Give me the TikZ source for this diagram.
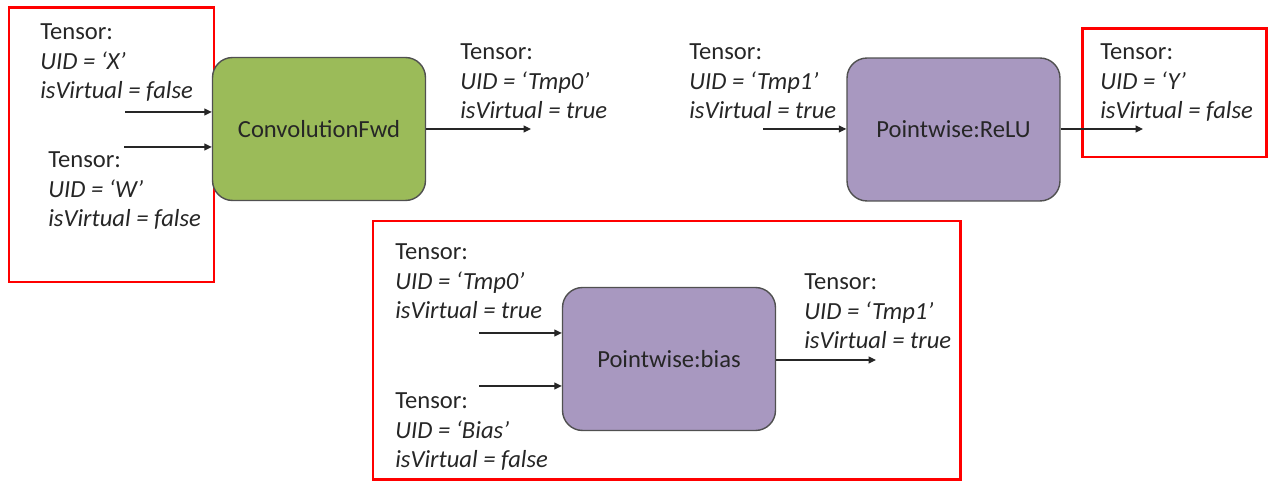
\documentclass[tikz,border=0pt]{standalone}
\usepackage{fontspec}
\setmainfont{Carlito}
\usetikzlibrary{arrows.meta}
\definecolor{txt}{RGB}{38,38,38}
\definecolor{convgreen}{HTML}{9BBB59}
\definecolor{pwpurple}{HTML}{A898C0}
\definecolor{boxedge}{RGB}{80,80,80}
\tikzset{
  lbl/.style={anchor=base west, inner sep=0pt, text=txt, font=\fontsize{14}{17}\selectfont},
  lbli/.style={lbl, font=\fontsize{14}{17}\selectfont\itshape},
  opbox/.style={draw=boxedge, line width=0.8pt, rounded corners=0.4cm,
    minimum width=4.26cm, minimum height=2.86cm, inner sep=0pt, text=txt,
    font=\fontsize{14}{17}\selectfont},
  redbox/.style={draw=red, line width=1.7pt},
  flow/.style={draw=txt, line width=0.7pt, -{Triangle[length=1.5mm,width=1.4mm]}}
}
\newcommand\tensorlabel[5]{%
  \node[lbl]  (#1-t) at (#2,#3+7) {Tensor:};
  \node[lbli] (#1-u) at (#2,#3+36.5) {UID = ‘#4’};
  \node[lbli] (#1-v) at (#2,#3+66) {isVirtual = #5};
}
\begin{document}
\begin{tikzpicture}[x=0.02cm,y=-0.02cm]
\useasboundingbox (0,0) rectangle (1268,482);
% red frames
\draw[redbox] (9,8) rectangle (214,282);
\draw[redbox] (1082,29) rectangle (1266,157);
\draw[redbox] (373,221) rectangle (960,479.5);
% operation boxes
\node[opbox, fill=convgreen] (conv) at (319,129) {ConvolutionFwd};
\node[opbox, fill=pwpurple] (relu) at (953.5,129.5) {Pointwise:ReLU};
\node[opbox, fill=pwpurple] (bias) at (669,359) {Pointwise:bias};
% tensor labels
\tensorlabel{tx}{40}{33}{X}{false}
\tensorlabel{tw}{48}{161}{W}{false}
\tensorlabel{tt0}{460}{53}{Tmp0}{true}
\tensorlabel{tt1}{689}{53}{Tmp1}{true}
\tensorlabel{ty}{1100}{53}{Y}{false}
\tensorlabel{tb0}{395}{253}{Tmp0}{true}
\tensorlabel{tbb}{395}{402}{Bias}{false}
\tensorlabel{tb1}{804}{283}{Tmp1}{true}
% free ends of connectors
\coordinate (xin) at (125,112);
\coordinate (win) at (124,147);
\coordinate (convout) at (531,129);
\coordinate (reluin) at (763,129);
\coordinate (reluout) at (1143,129);
\coordinate (bin1) at (479,333);
\coordinate (bin2) at (479,386);
\coordinate (biasout) at (876,360);
% connectors
\draw[flow] (xin) -- (xin -| conv.west);
\draw[flow] (win) -- (win -| conv.west);
\draw[flow] (conv.east |- convout) -- (convout);
\draw[flow] (reluin) -- (reluin -| relu.west);
\draw[flow] (relu.east |- reluout) -- (reluout);
\draw[flow] (bin1) -- (bin1 -| bias.west);
\draw[flow] (bin2) -- (bin2 -| bias.west);
\draw[flow] (bias.east |- biasout) -- (biasout);
\end{tikzpicture}
\end{document}
